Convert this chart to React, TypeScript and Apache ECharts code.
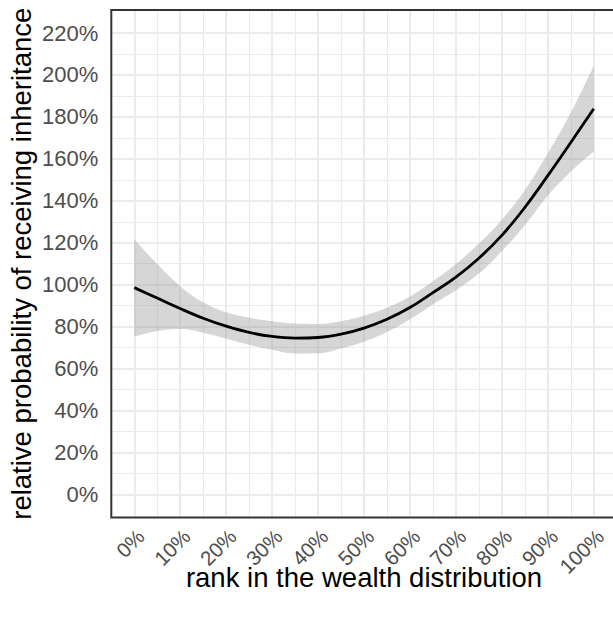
import React, { useEffect, useRef } from "react";
import * as echarts from "echarts";

// rank in the wealth distribution (%)
const xRank = [0, 5, 10, 15, 20, 25, 30, 35, 40, 45, 50, 55, 60, 65, 70, 75, 80, 85, 90, 95, 100];
// fitted relative probability (%)
const fitValues = [98.6, 93.6, 88.6, 84.0, 80.2, 77.2, 75.3, 74.5, 74.8, 76.4, 79.3, 83.5, 89.1, 96.2, 103.6, 112.6, 123.5, 136.8, 152.0, 167.8, 183.9];
// confidence band upper / lower (%)
const upperValues = [121.7, 109.8, 99.3, 91.6, 86.8, 84.2, 82.6, 81.5, 81.3, 82.6, 85.2, 89.0, 94.3, 101.6, 109.8, 119.6, 131.0, 145.2, 162.6, 182.0, 204.4];
const lowerValues = [75.2, 77.9, 78.8, 77.1, 74.3, 71.3, 68.9, 67.2, 67.3, 69.6, 72.8, 77.4, 83.5, 90.6, 97.3, 105.3, 115.9, 128.3, 142.4, 153.8, 163.5];

// tick labels / breaks
const xTickValues = [0, 10, 20, 30, 40, 50, 60, 70, 80, 90, 100];
const xMinorBreaks = [5, 15, 25, 35, 45, 55, 65, 75, 85, 95];
const yTickValues = [0, 20, 40, 60, 80, 100, 120, 140, 160, 180, 200, 220];
const yMinorBreaks = [10, 30, 50, 70, 90, 110, 130, 150, 170, 190, 210];
// axis limits (with ggplot-style expansion)
const xLimits = [-5, 105];
const yLimits = [-11, 231];

export default function App() {
  const ref = useRef<HTMLDivElement>(null);

  useEffect(() => {
    if (!ref.current) return;
    const chart = echarts.init(ref.current, null, { renderer: "svg" });
    const fontFamily = "'Liberation Sans', Arial, Helvetica, sans-serif";
    const gridColor = "#ebebeb";

    const gridLines = [
      ...xMinorBreaks.map((v) => ({ xAxis: v, lineStyle: { width: 1.1, color: gridColor, type: "solid" } })),
      ...yMinorBreaks.map((v) => ({ yAxis: v, lineStyle: { width: 1.1, color: gridColor, type: "solid" } })),
      ...xTickValues.map((v) => ({ xAxis: v, lineStyle: { width: 2, color: gridColor, type: "solid" } })),
      ...yTickValues.map((v) => ({ yAxis: v, lineStyle: { width: 2, color: gridColor, type: "solid" } })),
    ];

    // bracket the x labels with two hidden placeholder labels at the limits,
    // so that the min/max-label overlap check never hides a real label
    const xLabelValues = [xLimits[0], ...xTickValues, xLimits[1]];

    chart.setOption({
      animation: false,
      backgroundColor: "#ffffff",
      grid: {
        left: 111.3,
        right: -3.7,
        top: 10,
        bottom: 101.6,
        containLabel: false,
        outerBoundsMode: "none",
        show: true,
        borderColor: "#333333",
        borderWidth: 2,
        backgroundColor: "transparent",
        z: 10,
      },
      xAxis: {
        type: "value",
        min: xLimits[0],
        max: xLimits[1],
        name: "rank in the wealth distribution",
        nameLocation: "middle",
        nameGap: 46.5,
        nameMoveOverlap: false,
        nameTextStyle: { fontSize: 27.5, color: "#000000", fontFamily },
        axisLine: { show: false },
        axisTick: {
          show: true,
          customValues: xTickValues,
          length: 7,
          lineStyle: { color: "#333333", width: 2 },
        },
        axisLabel: {
          customValues: xLabelValues,
          showMinLabel: false,
          showMaxLabel: false,
          hideOverlap: false,
          formatter: (v: number) => (v < 0 || v > 100 ? "" : `${v}%`),
          rotate: 45,
          align: "right",
          verticalAlign: "top",
          lineHeight: 18,
          margin: 9,
          fontSize: 20.5,
          color: "#4d4d4d",
          fontFamily,
        },
        splitLine: { show: false },
      },
      yAxis: {
        type: "value",
        min: yLimits[0],
        max: yLimits[1],
        name: "relative probability of receiving inheritance",
        nameLocation: "middle",
        nameRotate: 90,
        nameGap: 76,
        nameMoveOverlap: false,
        nameTextStyle: { fontSize: 27.5, color: "#000000", fontFamily },
        axisLine: { show: false },
        axisTick: {
          show: true,
          customValues: yTickValues,
          length: 7,
          lineStyle: { color: "#333333", width: 2 },
        },
        axisLabel: {
          customValues: yTickValues,
          showMinLabel: true,
          showMaxLabel: true,
          formatter: (v: number) => `${v}%`,
          margin: 13,
          fontSize: 22,
          color: "#4d4d4d",
          fontFamily,
        },
        splitLine: { show: false },
      },
      series: [
        {
          name: "lower",
          type: "line",
          stack: "band",
          dimensions: ["value", "rank"],
          encode: { x: 1, y: 0 },
          data: xRank.map((x, i) => [lowerValues[i], x]),
          smooth: 0.4,
          symbol: "none",
          lineStyle: { width: 0, opacity: 0 },
          silent: true,
          z: 2,
          markLine: {
            silent: true,
            symbol: ["none", "none"],
            label: { show: false },
            z: 1,
            animation: false,
            data: gridLines,
          },
        },
        {
          name: "band",
          type: "line",
          stack: "band",
          dimensions: ["value", "rank"],
          encode: { x: 1, y: 0 },
          data: xRank.map((x, i) => [upperValues[i] - lowerValues[i], x]),
          smooth: 0.4,
          symbol: "none",
          lineStyle: { width: 0, opacity: 0 },
          areaStyle: { color: "rgba(153,153,153,0.4)", opacity: 1 },
          silent: true,
          z: 3,
        },
        {
          name: "fit",
          type: "line",
          data: xRank.map((x, i) => [x, fitValues[i]]),
          smooth: 0.4,
          symbol: "none",
          lineStyle: { color: "#000000", width: 2.8 },
          silent: true,
          z: 4,
        },
      ],
    });

    return () => {
      chart.dispose();
    };
  }, []);

  return (
    <div
      ref={ref}
      style={{ position: "fixed", left: 0, top: 0, width: 613, height: 619, background: "#ffffff" }}
    />
  );
}
